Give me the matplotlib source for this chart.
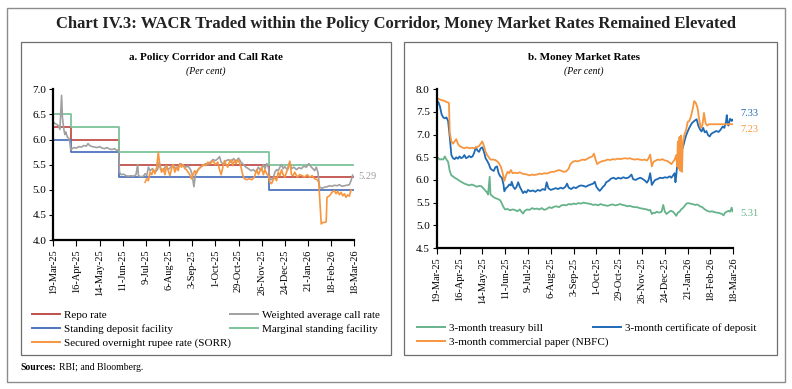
import numpy as np
import matplotlib
matplotlib.use("Agg")
import matplotlib.pyplot as plt
from matplotlib.patches import Rectangle
from matplotlib.lines import Line2D

plt.rcParams['font.family'] = ['Liberation Serif', 'DejaVu Serif']

start = np.datetime64('2025-03-19')
tick_labels = ['19-Mar-25', '16-Apr-25', '14-May-25', '11-Jun-25', '9-Jul-25', '6-Aug-25',
               '3-Sep-25', '1-Oct-25', '29-Oct-25', '26-Nov-25', '24-Dec-25', '21-Jan-26',
               '18-Feb-26', '18-Mar-26']
tick_days = [0, 28, 56, 84, 112, 140, 168, 196, 224, 252, 280, 308, 336, 364]

# policy corridor (day offsets of changes from 19-Mar-25)
policy_days = [0, 21, 80, 261, 363]
repo = [6.25, 6.00, 5.50, 5.25, 5.25]
sdf = [6.00, 5.75, 5.25, 5.00, 5.00]
msf = [6.50, 6.25, 5.75, 5.50, 5.50]

wacr_days = [0, 2, 4, 6, 8, 9, 10, 11, 12, 13, 14, 15, 17, 19, 20, 21, 23, 25, 28, 31, 34, 37, 40, 42,
             44, 47, 50, 53, 56, 59, 62, 65, 68, 71, 74, 77, 79, 80, 82, 85, 88, 91, 94, 97, 100, 102,
             103, 106, 109, 111, 113, 115, 117, 120, 123, 126, 128, 130, 133, 136, 139, 142, 145, 148,
             151, 154, 157, 160, 163, 166, 168, 170, 172, 175, 178, 181, 184, 187, 190, 193, 196, 199,
             201, 203, 206, 209, 212, 215, 218, 221, 224, 227, 230, 233, 236, 239, 242, 245, 248, 251,
             254, 256, 258, 260, 262, 264, 266, 268, 270, 272, 274, 276, 278, 280, 283, 286, 288, 291,
             294, 297, 300, 303, 306, 309, 312, 314, 316, 318, 320, 322, 325, 328, 331, 334, 337, 340,
             343, 346, 349, 352, 355, 358, 360, 362]
wacr = [6.35, 6.32, 6.30, 6.28, 6.20, 6.55, 6.88, 6.45, 6.30, 6.18, 6.10, 6.15, 6.05, 6.02, 5.95, 5.80,
        5.82, 5.84, 5.83, 5.86, 5.85, 5.88, 5.87, 5.92, 5.88, 5.86, 5.85, 5.84, 5.86, 5.83, 5.82, 5.84,
        5.81, 5.80, 5.82, 5.78, 5.80, 5.35, 5.30, 5.31, 5.28, 5.27, 5.28, 5.27, 5.30, 5.50, 5.28, 5.26,
        5.27, 5.32, 5.28, 5.45, 5.38, 5.42, 5.35, 5.40, 5.55, 5.42, 5.38, 5.48, 5.40, 5.45, 5.50, 5.42,
        5.46, 5.52, 5.48, 5.45, 5.47, 5.40, 5.30, 5.06, 5.32, 5.40, 5.45, 5.48, 5.52, 5.50, 5.55, 5.60,
        5.58, 5.62, 5.66, 5.55, 5.50, 5.58, 5.60, 5.55, 5.62, 5.57, 5.63, 5.55, 5.50, 5.45, 5.42, 5.38,
        5.40, 5.35, 5.45, 5.38, 5.50, 5.42, 5.52, 5.45, 5.22, 5.20, 5.24, 5.35, 5.40, 5.38, 5.45, 5.50,
        5.42, 5.46, 5.40, 5.55, 5.42, 5.45, 5.40, 5.44, 5.42, 5.47, 5.45, 5.52, 5.45, 5.42, 5.38, 5.45,
        5.35, 5.05, 5.03, 5.05, 5.06, 5.08, 5.07, 5.09, 5.08, 5.10, 5.07, 5.08, 5.09, 5.10, 5.18, 5.29]

sorr_days = [111, 113, 115, 117, 119, 121, 123, 125, 127, 129, 131, 133, 135, 137, 139, 141, 143, 145,
             147, 149, 151, 153, 155, 157, 159, 161, 163, 165, 167, 169, 171, 173, 175, 178, 181, 184,
             187, 190, 193, 196, 199, 201, 203, 205, 207, 209, 211, 213, 215, 217, 219, 221, 223, 225,
             227, 229, 231, 234, 237, 240, 243, 246, 248, 250, 252, 254, 256, 258, 260, 262, 264, 266,
             268, 270, 272, 274, 276, 278, 280, 282, 284, 286, 288, 290, 292, 295, 298, 301, 304, 307,
             310, 313, 316, 319, 321, 323, 324, 326, 328, 330, 331, 334, 337, 340, 342, 344, 346, 348,
             350, 352, 354, 356, 358, 360]
sorr = [5.15, 5.22, 5.18, 5.35, 5.30, 5.40, 5.32, 5.45, 5.75, 5.45, 5.35, 5.42, 5.30, 5.48, 5.38, 5.28,
        5.42, 5.50, 5.35, 5.45, 5.38, 5.52, 5.45, 5.50, 5.42, 5.40, 5.35, 5.30, 5.22, 5.30, 5.38, 5.32,
        5.40, 5.45, 5.50, 5.48, 5.55, 5.52, 5.58, 5.50, 5.55, 5.40, 5.30, 5.45, 5.58, 5.50, 5.45, 5.55,
        5.60, 5.48, 5.58, 5.52, 5.60, 5.55, 5.45, 5.30, 5.22, 5.20, 5.22, 5.20, 5.25, 5.40, 5.30, 5.38,
        5.45, 5.30, 5.40, 5.32, 5.28, 5.15, 5.12, 5.20, 5.25, 5.18, 5.35, 5.28, 5.40, 5.30, 5.25, 5.35,
        5.42, 5.57, 5.30, 5.28, 5.35, 5.25, 5.30, 5.28, 5.25, 5.30, 5.25, 5.28, 5.22, 5.20, 5.15, 4.60,
        4.32, 4.35, 4.35, 4.36, 4.85, 4.88, 4.95, 4.98, 4.92, 4.97, 4.90, 4.95, 4.88, 4.92, 4.85, 4.90,
        4.87, 5.00]

# money market rates
tbill_days = [0, 2, 4, 6, 8, 10, 12, 14, 16, 18, 20, 22, 25, 28, 31, 34, 37, 40, 43, 46, 49, 52, 55, 58,
              60, 62, 63, 65, 66, 68, 70, 72, 75, 78, 80, 82, 84, 87, 90, 93, 96, 99, 102, 104, 106,
              108, 111, 114, 117, 120, 123, 126, 129, 132, 135, 138, 141, 144, 147, 150, 153, 156, 159,
              162, 165, 168, 171, 174, 177, 180, 183, 186, 189, 192, 195, 198, 201, 204, 207, 210, 213,
              216, 219, 222, 225, 228, 231, 234, 237, 240, 243, 246, 249, 252, 255, 258, 260, 262, 264,
              266, 268, 270, 273, 276, 278, 280, 282, 284, 287, 290, 292, 294, 296, 298, 300, 302, 304,
              306, 308, 311, 314, 317, 320, 323, 326, 329, 332, 335, 338, 341, 344, 347, 350, 352, 354,
              356, 358, 360, 362, 363]
tbill = [6.51, 6.48, 6.45, 6.46, 6.45, 6.52, 6.45, 6.40, 6.20, 6.10, 6.08, 6.05, 6.02, 5.98, 5.95, 5.92,
         5.90, 5.88, 5.90, 5.88, 5.85, 5.87, 5.86, 5.80, 5.76, 5.72, 5.68, 6.07, 5.68, 5.65, 5.62, 5.60,
         5.58, 5.55, 5.48, 5.40, 5.35, 5.36, 5.33, 5.35, 5.34, 5.31, 5.35, 5.30, 5.26, 5.32, 5.35, 5.34,
         5.38, 5.36, 5.37, 5.35, 5.38, 5.34, 5.36, 5.40, 5.38, 5.41, 5.42, 5.40, 5.44, 5.45, 5.44, 5.47,
         5.46, 5.48, 5.47, 5.49, 5.48, 5.50, 5.49, 5.48, 5.47, 5.45, 5.46, 5.44, 5.47, 5.45, 5.44, 5.43,
         5.45, 5.46, 5.44, 5.45, 5.47, 5.45, 5.44, 5.42, 5.43, 5.41, 5.40, 5.40, 5.38, 5.37, 5.36, 5.35,
         5.33, 5.34, 5.25, 5.28, 5.27, 5.30, 5.28, 5.30, 5.45, 5.30, 5.25, 5.28, 5.32, 5.30, 5.26, 5.21,
         5.28, 5.30, 5.35, 5.38, 5.42, 5.47, 5.49, 5.48, 5.47, 5.45, 5.46, 5.42, 5.40, 5.35, 5.32, 5.30,
         5.31, 5.29, 5.28, 5.27, 5.25, 5.22, 5.28, 5.30, 5.32, 5.30, 5.39, 5.31]

cd_days = [0, 2, 4, 6, 8, 10, 12, 14, 16, 18, 20, 22, 24, 26, 28, 30, 32, 34, 36, 38, 40, 42, 44, 46,
           48, 50, 52, 54, 56, 58, 60, 62, 64, 66, 68, 70, 72, 74, 76, 78, 80, 82, 83, 85, 87, 89, 91,
           92, 94, 96, 98, 100, 102, 104, 106, 108, 110, 112, 115, 118, 121, 124, 127, 130, 133, 135,
           137, 140, 143, 146, 149, 152, 155, 158, 160, 162, 165, 168, 171, 174, 177, 180, 183, 186,
           189, 192, 194, 196, 198, 200, 202, 204, 206, 208, 211, 214, 217, 220, 223, 226, 229, 232,
           235, 237, 239, 241, 244, 247, 250, 253, 256, 258, 260, 262, 264, 266, 268, 271, 274, 277,
           280, 283, 286, 288, 290, 292, 293, 294, 296, 298, 300, 302, 304, 306, 308, 310, 313, 316,
           319, 321, 323, 325, 327, 329, 331, 333, 335, 337, 340, 343, 346, 348, 351, 353, 355, 356,
           357, 358, 360, 362, 363]
cd = [7.65, 7.72, 7.62, 7.45, 7.38, 7.36, 7.38, 7.30, 6.95, 6.55, 6.48, 6.46, 6.50, 6.47, 6.52, 6.48,
      6.50, 6.55, 6.48, 6.50, 6.53, 6.50, 6.52, 6.60, 6.72, 6.65, 6.62, 6.70, 6.72, 6.62, 6.48, 6.42,
      6.35, 6.25, 6.22, 6.20, 6.28, 6.30, 6.15, 6.08, 6.05, 5.90, 5.75, 5.82, 5.85, 5.90, 5.88, 5.96,
      5.85, 5.80, 5.85, 5.95, 5.85, 5.78, 5.71, 5.75, 5.72, 5.78, 5.75, 5.77, 5.74, 5.78, 5.76, 5.80,
      5.78, 5.95, 5.82, 5.78, 5.80, 5.82, 5.80, 5.83, 5.81, 5.85, 5.92, 5.83, 5.80, 5.84, 5.82, 5.86,
      5.88, 5.87, 5.85, 5.88, 5.90, 5.92, 5.96, 5.85, 5.80, 5.76, 5.80, 5.85, 5.88, 5.95, 5.98, 6.03,
      6.05, 6.02, 6.05, 6.03, 6.06, 6.04, 6.05, 6.08, 6.12, 6.02, 6.00, 6.03, 6.05, 6.02, 5.98, 5.94,
      6.00, 6.15, 5.89, 5.95, 6.00, 6.02, 6.05, 6.04, 6.06, 6.05, 6.08, 6.05, 6.10, 6.15, 5.95, 6.10,
      6.50, 6.60, 6.65, 6.71, 6.85, 6.98, 7.07, 7.15, 7.25, 7.30, 7.34, 7.20, 7.12, 7.07, 7.15, 7.05,
      7.08, 6.99, 6.96, 7.02, 7.05, 7.08, 7.06, 7.10, 7.18, 7.15, 7.28, 7.43, 7.25, 7.20, 7.35, 7.30,
      7.33]

cp_days = [0, 3, 6, 9, 12, 15, 16, 18, 20, 22, 24, 26, 28, 31, 34, 37, 40, 43, 46, 49, 52, 54, 56, 58,
           60, 62, 64, 66, 69, 72, 75, 77, 79, 81, 83, 85, 87, 89, 91, 93, 96, 99, 102, 105, 108, 111,
           114, 117, 120, 123, 126, 129, 132, 135, 138, 141, 144, 147, 150, 153, 156, 159, 162, 164,
           167, 170, 173, 176, 179, 182, 185, 188, 191, 193, 195, 197, 199, 201, 204, 207, 210, 213,
           216, 219, 222, 225, 228, 231, 234, 237, 240, 243, 246, 249, 252, 255, 258, 260, 262, 264,
           266, 268, 271, 274, 277, 280, 283, 286, 288, 290, 292, 294, 295, 296, 297, 298, 299, 300,
           301, 302, 304, 306, 308, 310, 312, 314, 316, 318, 320, 322, 324, 326, 328, 330, 332, 334,
           340, 350, 363]
cp = [7.80, 7.78, 7.76, 7.75, 7.72, 7.70, 7.05, 6.85, 6.80, 6.85, 6.90, 6.80, 6.75, 6.72, 6.70, 6.72,
      6.70, 6.71, 6.70, 6.72, 6.75, 6.80, 6.85, 6.75, 6.62, 6.55, 6.50, 6.45, 6.45, 6.44, 6.40, 6.35,
      6.28, 6.15, 5.98, 6.10, 6.18, 6.15, 6.22, 6.15, 6.16, 6.15, 6.17, 6.14, 6.13, 6.12, 6.10, 6.12,
      6.11, 6.12, 6.14, 6.13, 6.15, 6.14, 6.16, 6.18, 6.18, 6.20, 6.22, 6.20, 6.18, 6.19, 6.25, 6.35,
      6.40, 6.42, 6.41, 6.43, 6.45, 6.44, 6.47, 6.50, 6.52, 6.58, 6.45, 6.35, 6.38, 6.40, 6.42, 6.43,
      6.45, 6.44, 6.46, 6.45, 6.47, 6.46, 6.47, 6.48, 6.47, 6.48, 6.46, 6.45, 6.46, 6.45, 6.44, 6.45,
      6.43, 6.48, 6.56, 6.30, 6.40, 6.42, 6.45, 6.44, 6.46, 6.43, 6.42, 6.38, 6.35, 6.40, 6.45, 6.55,
      6.30, 6.85, 6.25, 6.95, 6.20, 6.98, 6.18, 6.80, 7.00, 7.10, 7.28, 7.30, 7.40, 7.55, 7.74, 7.70,
      7.60, 7.35, 7.15, 7.20, 7.48, 7.25, 7.20, 7.23, 7.23, 7.23, 7.23]

red = '#C0504D'
blue_sdf = '#4F73BE'
green_msf = '#7CC49A'
grey = '#A0A0A0'
orange = '#F7963F'
green_tb = '#66B38A'
blue_cd = '#1F6AB5'


def dates(days):
    return start + np.array(days).astype('timedelta64[D]')


fig = plt.figure(figsize=(7.92, 3.89), dpi=100)
W, H = 792, 389


def box(x0, y0, x1, y1, color, lw):
    fig.add_artist(Rectangle((x0 / W, 1 - y1 / H), (x1 - x0) / W, (y1 - y0) / H,
                             transform=fig.transFigure, fill=False, edgecolor=color, linewidth=lw))


box(7, 8, 785, 382, '#8C8C8C', 1.0)
box(21, 42, 391, 355, '#6E6E6E', 0.9)
box(404, 42, 777, 355, '#6E6E6E', 0.9)

fig.text(396 / W, 1 - 24 / H,
         'Chart IV.3: WACR Traded within the Policy Corridor, Money Market Rates Remained Elevated',
         ha='center', va='center', fontsize=12, fontweight='bold', color='#222222')

ax1 = fig.add_axes([53.3 / W, 1 - 240 / H, (354.3 - 53.3) / W, (240 - 89.3) / H])
ax2 = fig.add_axes([436.7 / W, 1 - 248 / H, (733.3 - 436.7) / W, (248 - 89.3) / H])

ax1.plot(dates(policy_days), repo, drawstyle='steps-post', color=red, lw=1.3)
ax1.plot(dates(policy_days), sdf, drawstyle='steps-post', color=blue_sdf, lw=1.3)
ax1.plot(dates(policy_days), msf, drawstyle='steps-post', color=green_msf, lw=1.3)
ax1.plot(dates(wacr_days), wacr, color=grey, lw=1.2)
ax1.plot(dates(sorr_days), sorr, color=orange, lw=1.2)
ax1.set_ylim(4.0, 7.0)
ax1.set_yticks(np.arange(4.0, 7.01, 0.5))

ax2.plot(dates(tbill_days), tbill, color=green_tb, lw=1.3)
ax2.plot(dates(cd_days), cd, color=blue_cd, lw=1.3)
ax2.plot(dates(cp_days), cp, color=orange, lw=1.3)
ax2.set_ylim(4.5, 8.0)
ax2.set_yticks(np.arange(4.5, 8.01, 0.5))

for ax in (ax1, ax2):
    ax.set_xlim(start, start + np.timedelta64(364, 'D'))
    ax.set_xticks(dates(tick_days))
    ax.set_xticklabels(tick_labels, rotation=90, fontsize=7.5)
    ax.yaxis.set_major_formatter(matplotlib.ticker.FormatStrFormatter('%.1f'))
    ax.tick_params(axis='y', labelsize=8, length=3, width=0.8, direction='out', pad=2)
    ax.tick_params(axis='x', length=4, width=0.8, direction='out', pad=3)
    for s in ('top', 'right'):
        ax.spines[s].set_visible(False)
    ax.spines['left'].set_linewidth(1.6)
    ax.spines['bottom'].set_linewidth(1.6)
    ax.patch.set_alpha(0)

fig.text(206 / W, 1 - 57 / H, 'a. Policy Corridor and Call Rate', ha='center', va='center',
         fontsize=8, fontweight='bold')
fig.text(206 / W, 1 - 71 / H, '(Per cent)', ha='center', va='center', fontsize=7, style='italic')
fig.text(584 / W, 1 - 57 / H, 'b. Money Market Rates', ha='center', va='center',
         fontsize=8, fontweight='bold')
fig.text(584 / W, 1 - 71 / H, '(Per cent)', ha='center', va='center', fontsize=7, style='italic')

# end-value labels
fig.text(358 / W, 1 - 177 / H, f'{wacr[-1]:.2f}', color=grey, fontsize=7.5, va='center')
fig.text(740 / W, 1 - 113 / H, f'{cd[-1]:.2f}', color=blue_cd, fontsize=7.5, va='center')
fig.text(740 / W, 1 - 129 / H, f'{cp[-1]:.2f}', color=orange, fontsize=7.5, va='center')
fig.text(740 / W, 1 - 214 / H, f'{tbill[-1]:.2f}', color=green_tb, fontsize=7.5, va='center')


def col_legend(items, x, y):
    handles = [Line2D([], [], color=c, lw=1.4) for c, _ in items]
    fig.legend(handles, [t for _, t in items], loc='upper left', bbox_to_anchor=(x / W, 1 - y / H),
               frameon=False, fontsize=8, handlelength=2.5, handletextpad=0.4, labelspacing=0.38,
               borderpad=0, borderaxespad=0)


col_legend([(red, 'Repo rate'), (blue_sdf, 'Standing deposit facility'),
            (orange, 'Secured overnight rupee rate (SORR)')], 32, 310)
col_legend([(grey, 'Weighted average call rate'), (green_msf, 'Marginal standing facility')], 230, 310)
col_legend([(green_tb, '3-month treasury bill'), (orange, '3-month commercial paper (NBFC)')], 417, 323)
col_legend([(blue_cd, '3-month certificate of deposit')], 593, 323)

src = fig.text(20 / W, 1 - 368 / H, 'Sources:', fontsize=7, fontweight='bold', va='center')
fig.canvas.draw()
bb = src.get_window_extent()
fig.text((bb.x1 + 3) / W, 1 - 368 / H, 'RBI; and Bloomberg.', fontsize=7, va='center')

fig.savefig('out.png', dpi=100)
